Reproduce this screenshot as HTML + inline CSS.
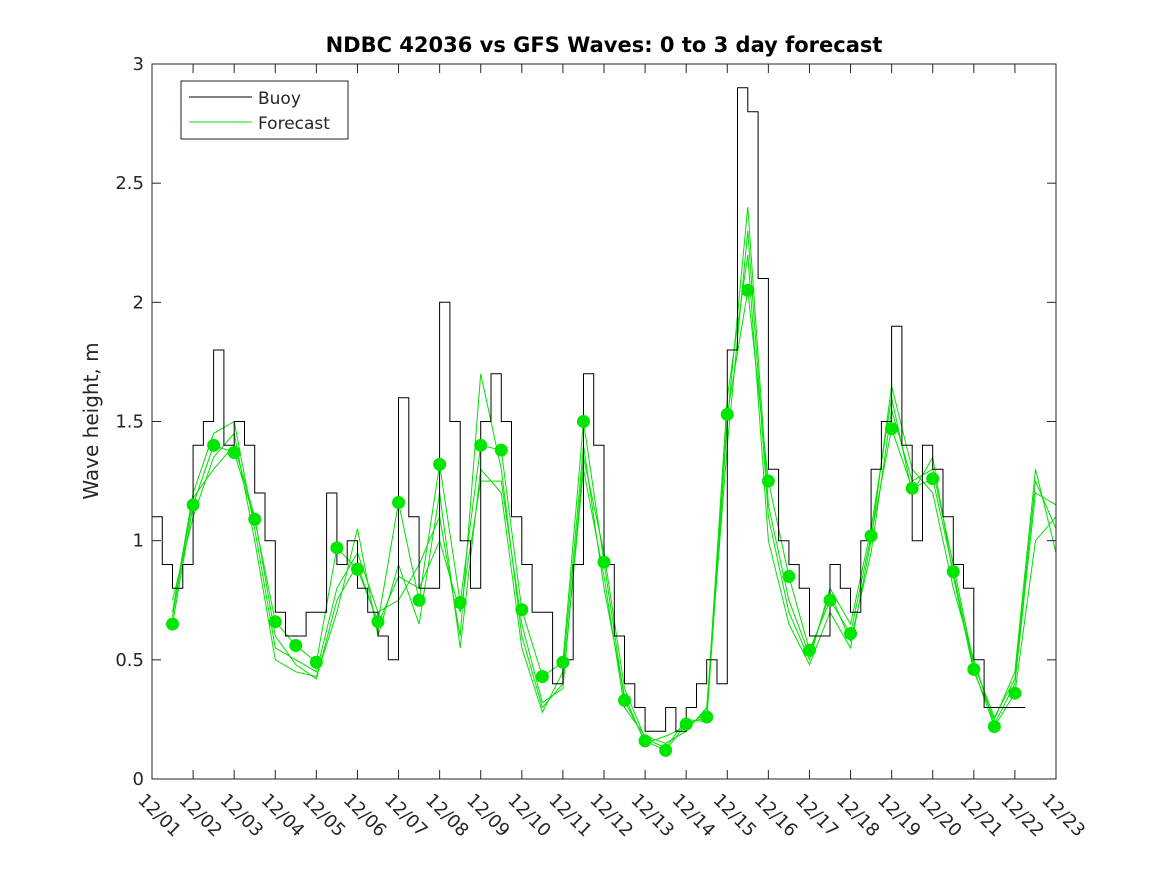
<!DOCTYPE html>
<html><head><meta charset="utf-8"><style>
body{margin:0;background:#fff;}
text{font-family:"DejaVu Sans","Liberation Sans",sans-serif;fill:#262626;}
</style></head><body>
<svg id="chart" width="1167" height="875" xmlns="http://www.w3.org/2000/svg">
<rect width="1167" height="875" fill="#fff"/>
<text x="604" y="52" text-anchor="middle" font-size="21" font-weight="bold" style="fill:#000">NDBC 42036 vs GFS Waves: 0 to 3 day forecast</text>
<text transform="translate(98,421) rotate(-90)" text-anchor="middle" font-size="20">Wave height, m</text>
<g id="marks"></g>
<rect x="152" y="64" width="904" height="715" fill="none" stroke="#262626" stroke-width="1"/>
<g id="axes"></g>
<g>
<rect x="181" y="81" width="167" height="58" fill="#fff" stroke="#262626"/>
<line x1="189" y1="97" x2="252" y2="97" stroke="#000"/>
<text x="258" y="104" font-size="17">Buoy</text>
<line x1="189" y1="122" x2="252" y2="122" stroke="#00e000"/>
<text x="258" y="129" font-size="17">Forecast</text>
</g>
</svg>
<script>
const xTickLabels=["12/01","12/02","12/03","12/04","12/05","12/06","12/07","12/08","12/09","12/10","12/11","12/12","12/13","12/14","12/15","12/16","12/17","12/18","12/19","12/20","12/21","12/22","12/23"];
const yTicks=[0,0.5,1,1.5,2,2.5,3];
const yTickLabels=["0","0.5","1","1.5","2","2.5","3"];
// buoy, every 6 hours from 12/01 00Z
const buoy=[1.1,0.9,0.8,0.9, 1.4,1.5,1.8,1.4, 1.5,1.4,1.2,1.0, 0.7,0.6,0.6,0.7,
0.7,1.2,0.9,1.0, 0.8,0.7,0.6,0.5, 1.6,1.1,0.8,0.8, 2.0,1.5,1.0,0.8, 1.5,1.7,1.5,1.1,
0.9,0.7,0.7,0.4, 0.5,0.9,1.7,1.4, 0.9,0.6,0.4,0.3, 0.2,0.2,0.3,0.2, 0.3,0.4,0.5,0.4,
1.8,2.9,2.8,2.1, 1.3,1.0,0.9,0.8, 0.6,0.6,0.9,0.8, 0.7,1.0,1.3,1.5, 1.9,1.4,1.0,1.4,
1.3,1.1,0.9,0.8, 0.5,0.3,0.3,0.3, 0.3];
// forecasts every 12 hours from 12/01 12Z
const fcA=[0.65,1.15,1.40,1.37,1.09,0.66,0.56,0.49,0.97,0.88,0.66,1.16,0.75,1.32,0.74,1.40,1.38,0.71,0.43,0.49,1.50,0.91,0.33,0.16,0.12,0.23,0.26,1.53,2.05,1.25,0.85,0.54,0.75,0.61,1.02,1.47,1.22,1.26,0.87,0.46,0.22,0.36,1.0,1.1];
const fcB=[0.70,1.20,1.45,1.50,1.05,0.55,0.50,0.45,0.80,0.95,0.70,0.75,0.90,1.10,0.60,1.70,1.30,0.60,0.30,0.40,1.30,0.85,0.30,0.18,0.15,0.20,0.30,1.40,2.30,1.10,0.70,0.50,0.80,0.65,1.05,1.60,1.20,1.35,0.85,0.45,0.25,0.45,1.30,0.95];
const fcC=[0.75,1.10,1.35,1.45,1.00,0.50,0.45,0.43,0.70,1.05,0.60,0.90,0.65,1.20,0.55,1.30,1.20,0.55,0.28,0.45,1.40,0.80,0.35,0.15,0.18,0.22,0.28,1.60,2.20,1.00,0.65,0.48,0.70,0.55,1.00,1.65,1.30,1.20,0.80,0.50,0.23,0.40,1.20,1.15];
const fcD=[0.68,1.18,1.30,1.40,1.10,0.60,0.48,0.42,0.75,0.90,0.65,0.85,0.80,1.00,0.70,1.25,1.25,0.65,0.32,0.38,1.35,0.95,0.38,0.17,0.13,0.25,0.24,1.50,2.40,1.15,0.75,0.52,0.78,0.58,0.95,1.55,1.25,1.30,0.90,0.48,0.26,0.42,1.25,1.05];
const dots=fcA.slice(0,42);

const X0=152,X1=1056,Y0=779,Y1=64;
function xs(t){return X0+(X1-X0)*t/22;}
function ys(v){return Y0-(Y0-Y1)*v/3;}
const NS="http://www.w3.org/2000/svg";
const marks=document.getElementById('marks'),axes=document.getElementById('axes');
function mk(tag,attrs,parent){const e=document.createElementNS(NS,tag);for(const k in attrs)e.setAttribute(k,attrs[k]);parent.appendChild(e);return e;}

[fcA,fcB,fcC,fcD].forEach((s,i)=>{
  const pts=s.map((v,j)=>xs(0.5+j*0.5).toFixed(1)+","+ys(v).toFixed(1)).join(" ");
  const p=mk('polyline',{points:pts,fill:'none',stroke:'#00e000','stroke-width':1},marks);
  
  
});
let pd="";
buoy.forEach((v,i)=>{const x=xs(i*0.25).toFixed(1),y=ys(v).toFixed(1);
  if(i===0) pd+="M"+x+","+y+" "; else pd+="H"+x+" V"+y+" ";});
pd+="H"+xs(buoy.length*0.25).toFixed(1);
const bp=mk('path',{d:pd,fill:'none',stroke:'#000','stroke-width':1},marks);


dots.forEach((v,j)=>{
  const c=mk('circle',{cx:xs(0.5+j*0.5),cy:ys(v),r:6.5,fill:'#00e600'},marks);
  
  
});
xTickLabels.forEach((l,i)=>{
  const x=xs(i);
  mk('line',{x1:x,y1:Y0,x2:x,y2:Y0-9,stroke:'#262626'},axes);
  mk('line',{x1:x,y1:Y1,x2:x,y2:Y1+9,stroke:'#262626'},axes);
  const t=mk('text',{transform:`translate(${x-15},${Y0+22}) rotate(45)`,'font-size':18},axes);
  t.textContent=l;
  
  
});
yTicks.forEach((v,i)=>{
  const y=ys(v);
  mk('line',{x1:X0,y1:y,x2:X0+9,y2:y,stroke:'#262626'},axes);
  mk('line',{x1:X1,y1:y,x2:X1-9,y2:y,stroke:'#262626'},axes);
  const t=mk('text',{x:X0-8,y:y+6,'text-anchor':'end','font-size':18},axes);
  t.textContent=yTickLabels[i];
  
  
});
</script>
</body></html>
